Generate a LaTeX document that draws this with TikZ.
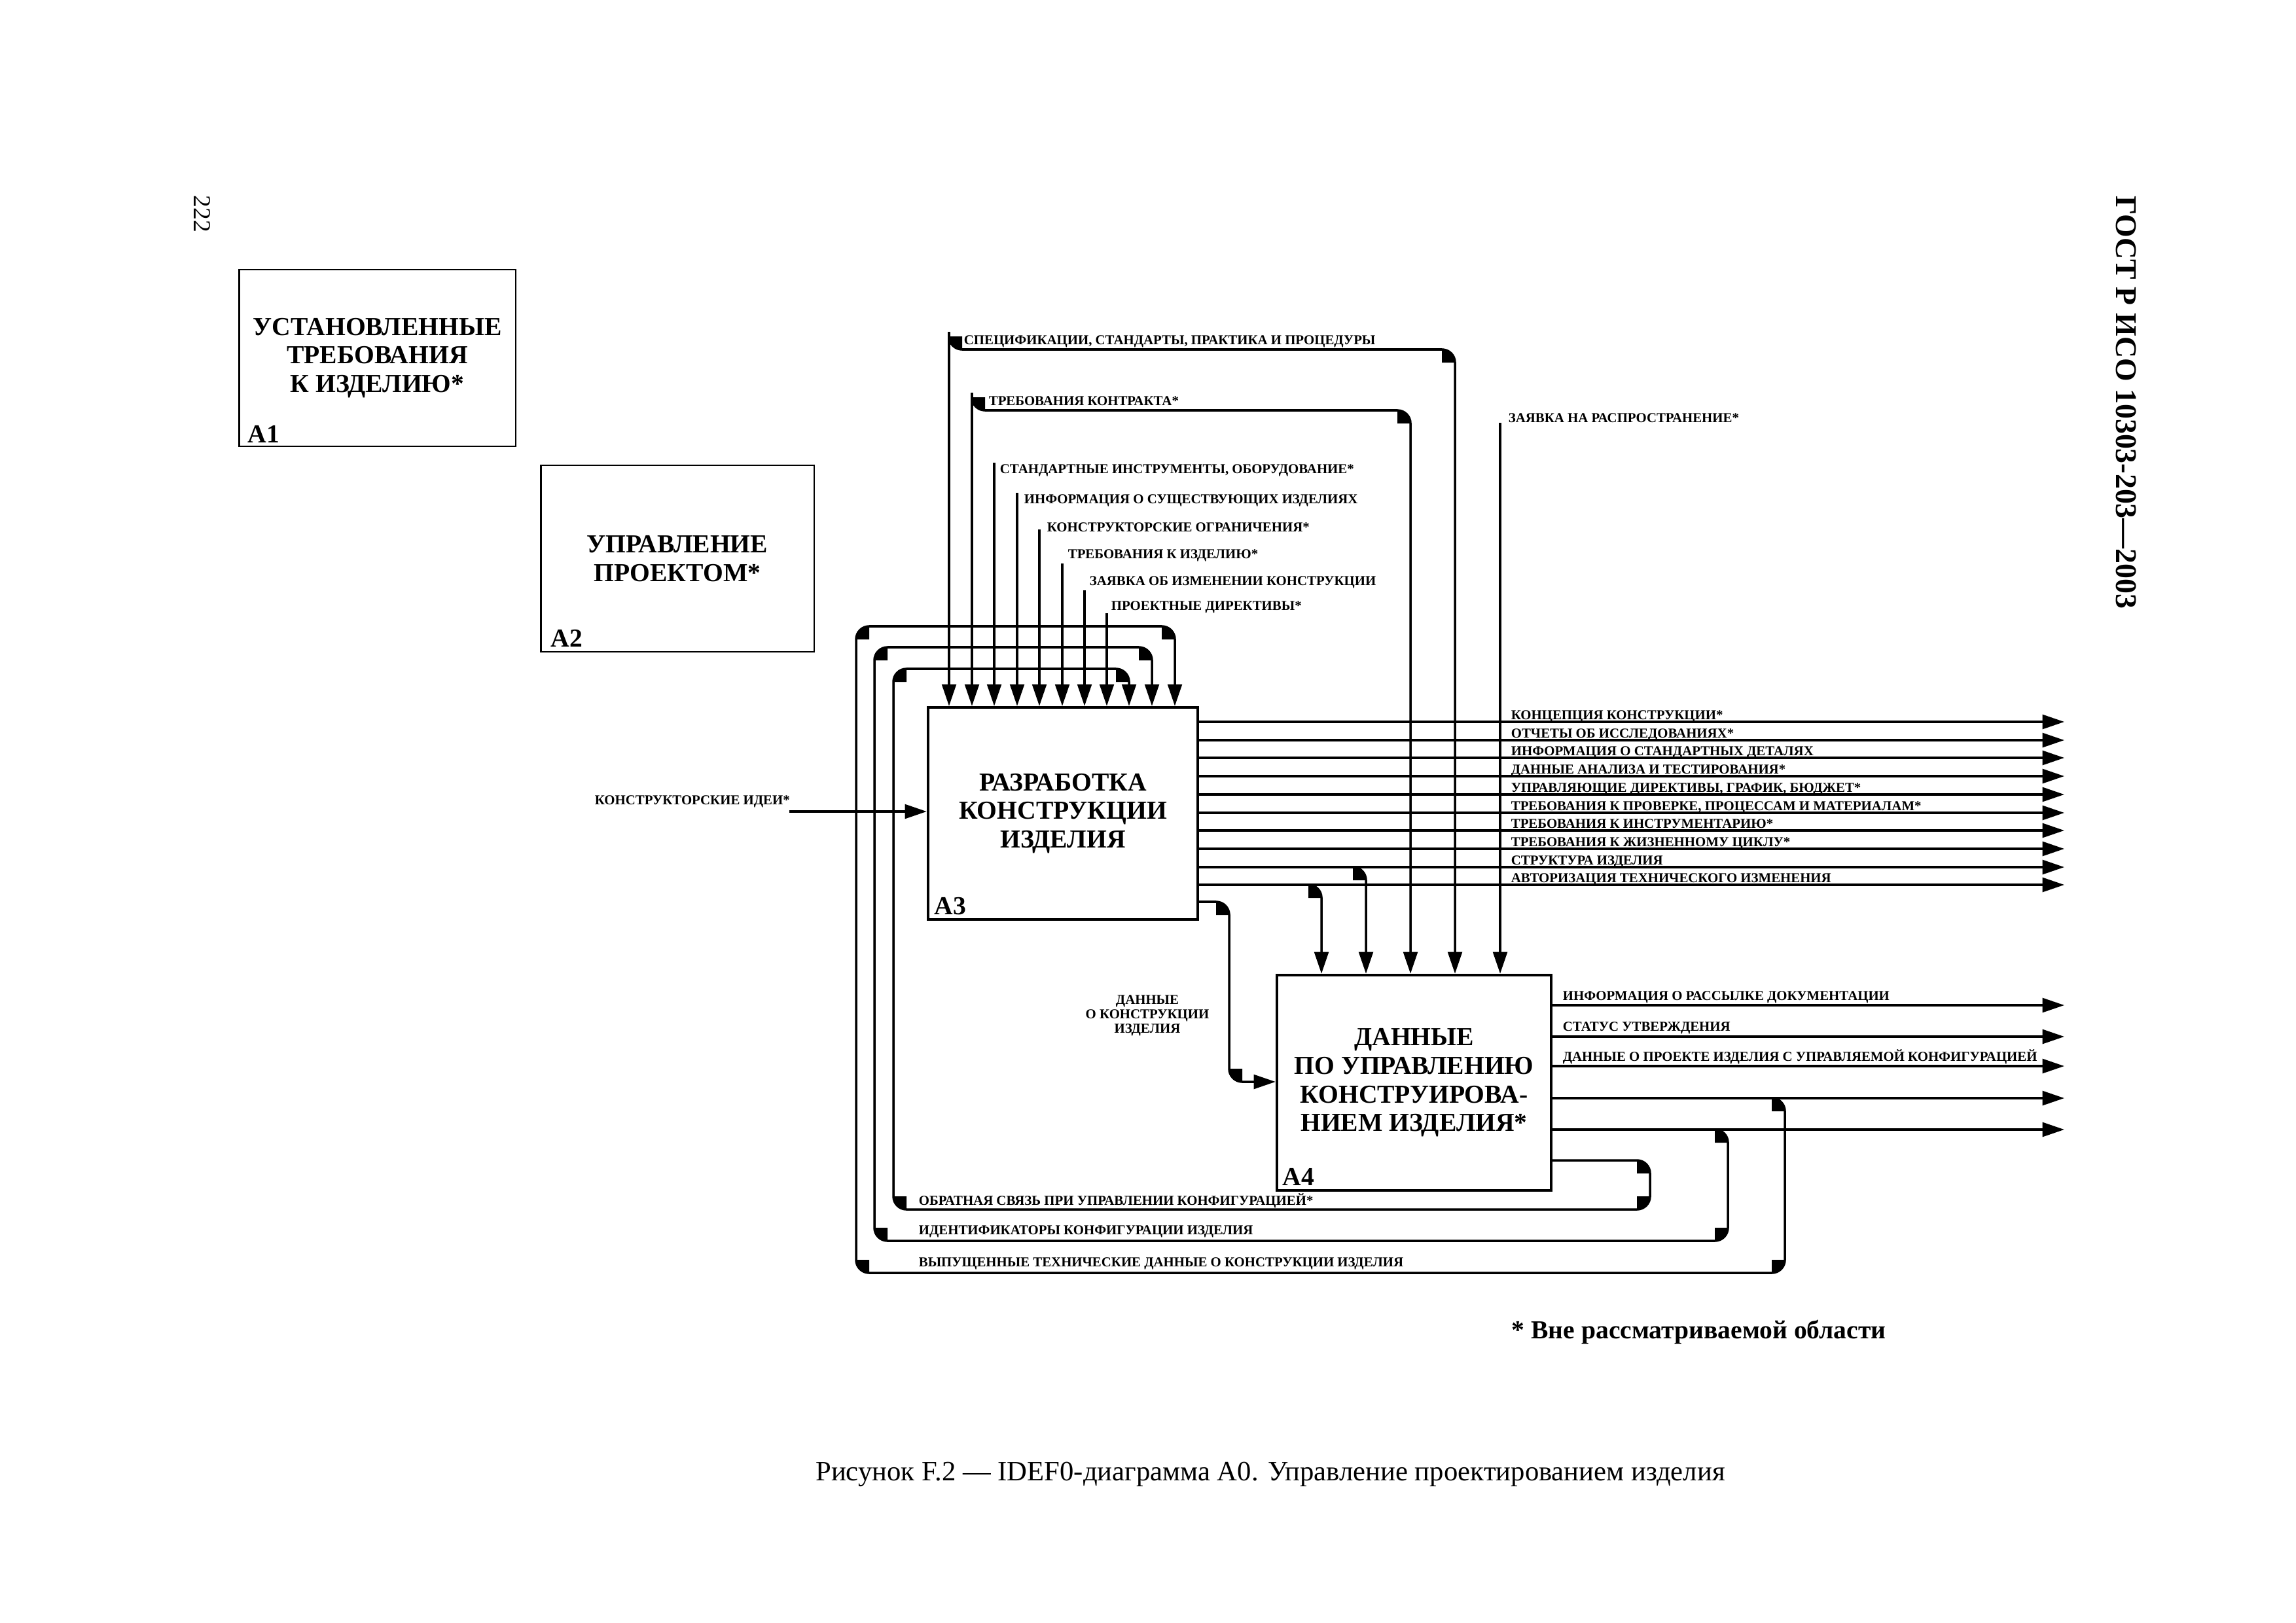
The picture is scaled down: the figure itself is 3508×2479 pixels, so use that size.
\documentclass[tikz,border=0pt]{standalone}
\usepackage{fontspec}
\setmainfont{Liberation Serif}
\usetikzlibrary{arrows.meta,calc}
\newcommand{\rr}{20}
\newcommand{\blobTR}[2]{\fill ({#1-\rr},{#2+\rr}) -- ++(-90:\rr) arc[start angle=-90,delta angle=90,radius=\rr] -- cycle;}
\newcommand{\blobBL}[2]{\fill ({#1+\rr},{#2-\rr}) -- ++(90:\rr) arc[start angle=90,delta angle=90,radius=\rr] -- cycle;}
\newcommand{\blobTL}[2]{\fill ({#1+\rr},{#2+\rr}) -- ++(180:\rr) arc[start angle=180,delta angle=90,radius=\rr] -- cycle;}
\newcommand{\blobBR}[2]{\fill ({#1-\rr},{#2-\rr}) -- ++(0:\rr) arc[start angle=0,delta angle=90,radius=\rr] -- cycle;}
\begin{document}
\begin{tikzpicture}[x=0.24pt,y=-0.24pt,
  box/.style={draw,line width=1pt,inner sep=0pt,align=center,font=\fontsize{9.5}{10.5}\selectfont\bfseries},
  sbox/.style={box,line width=0.7pt},
  idn/.style={inner sep=0pt,anchor=south west,font=\fontsize{9.5}{10.5}\selectfont\bfseries},
  lab/.style={inner sep=0pt,anchor=base west,font=\fontsize{5}{6}\selectfont\bfseries},
  ln/.style={line width=0.85pt,rounded corners=4.8pt},
  conn/.style={ln,-{Triangle[length=8pt,width=5.2pt]}},
]
\fill[white] (0,0) rectangle (3508,2479);
\useasboundingbox (0,0) rectangle (3508,2479);

% page header texts
\node[rotate=-90,font=\fontsize{9}{10}\selectfont] (pg) at (309,327) {222};
\node[rotate=-90,font=\fontsize{11}{13}\selectfont\bfseries] (gost) at (3248,615) {ГОСТ Р ИСО 10303-203—2003};

% boxes
\node[sbox,minimum width=101.5pt,minimum height=64.8pt] (A1) at (576.5,547) {УСТАНОВЛЕННЫЕ\\ТРЕБОВАНИЯ\\К ИЗДЕЛИЮ*};
\node[sbox,minimum width=100.3pt,minimum height=68.4pt] (A2) at (1035,853.5) {УПРАВЛЕНИЕ\\ПРОЕКТОМ*};
\node[box,minimum width=98.9pt,minimum height=77.8pt] (A3) at (1624,1243) {РАЗРАБОТКА\\КОНСТРУКЦИИ\\ИЗДЕЛИЯ};
\node[box,minimum width=100.6pt,minimum height=79pt] (A4) at (2160.5,1654.5) {ДАННЫЕ\\ПО УПРАВЛЕНИЮ\\КОНСТРУИРОВА-\\НИЕМ ИЗДЕЛИЯ*};
\node[idn] (A1n) at ($(A1.south west)+(14,-6)$) {A1};
\node[idn] (A2n) at ($(A2.south west)+(16,-8)$) {A2};
\node[idn] (A3n) at ($(A3.south west)+(11,-8)$) {A3};
\node[idn] (A4n) at ($(A4.south west)+(10,-9)$) {A4};

% controls of A3
\coordinate (c1) at (1450,507);
\coordinate (c2) at (1485,600);
\coordinate (c3) at (1519,707);
\coordinate (c4) at (1554,753);
\coordinate (c5) at (1588,809);
\coordinate (c6) at (1623,861);
\coordinate (c7) at (1657,902);
\coordinate (c8) at (1691,937);
\coordinate (k1) at (2223,534);
\coordinate (k2) at (2155,627);
\node[lab] (l1) at (1472,526) {СПЕЦИФИКАЦИИ, СТАНДАРТЫ, ПРАКТИКА И ПРОЦЕДУРЫ};
\node[lab] (l2) at (1510,619) {ТРЕБОВАНИЯ КОНТРАКТА*};
\node[lab] (l3) at (1527,723) {СТАНДАРТНЫЕ ИНСТРУМЕНТЫ, ОБОРУДОВАНИЕ*};
\node[lab] (l4) at (1564,769) {ИНФОРМАЦИЯ О СУЩЕСТВУЮЩИХ ИЗДЕЛИЯХ};
\node[lab] (l5) at (1599,812) {КОНСТРУКТОРСКИЕ ОГРАНИЧЕНИЯ*};
\node[lab] (l6) at (1631,853) {ТРЕБОВАНИЯ К ИЗДЕЛИЮ*};
\node[lab] (l7) at (1664,894) {ЗАЯВКА ОБ ИЗМЕНЕНИИ КОНСТРУКЦИИ};
\node[lab] (l8) at (1697,932) {ПРОЕКТНЫЕ ДИРЕКТИВЫ*};
\foreach \c in {c1,c2,c3,c4,c5,c6,c7,c8}
  \draw[conn] (\c) -- (\c |- A3.north);
\draw[conn] (c1) |- (k1) -- (k1 |- A4.north);
\draw[conn] (c2) |- (k2) -- (k2 |- A4.north);
\blobBL{1450}{534} \blobTR{2223}{534}
\blobBL{1485}{627} \blobTR{2155}{627}

% control of A4
\coordinate (d1) at (2292,646);
\node[lab] (ld1) at (2304,645) {ЗАЯВКА НА РАСПРОСТРАНЕНИЕ*};
\draw[conn] (d1) -- (d1 |- A4.north);

% input of A3
\coordinate (i1) at (1206,1240);
\node[lab] (li1) at (908,1229) {КОНСТРУКТОРСКИЕ ИДЕИ*};
\draw[conn] (i1) -- (A3.west |- i1);

% outputs of A3
\coordinate (o1) at (3154,1103);
\coordinate (o2) at (3154,1131);
\coordinate (o3) at (3154,1158);
\coordinate (o4) at (3154,1186);
\coordinate (o5) at (3154,1214);
\coordinate (o6) at (3154,1242);
\coordinate (o7) at (3154,1269);
\coordinate (o8) at (3154,1297);
\coordinate (o9) at (3154,1325);
\coordinate (o10) at (3154,1352);
\foreach \o in {o1,o2,o3,o4,o5,o6,o7,o8,o9,o10}
  \draw[conn] (A3.east |- \o) -- (\o);
\node[lab] (ol1) at (2308,1099) {КОНЦЕПЦИЯ КОНСТРУКЦИИ*};
\node[lab] (ol2) at (2308,1127) {ОТЧЕТЫ ОБ ИССЛЕДОВАНИЯХ*};
\node[lab] (ol3) at (2308,1154) {ИНФОРМАЦИЯ О СТАНДАРТНЫХ ДЕТАЛЯХ};
\node[lab] (ol4) at (2308,1182) {ДАННЫЕ АНАЛИЗА И ТЕСТИРОВАНИЯ*};
\node[lab] (ol5) at (2308,1210) {УПРАВЛЯЮЩИЕ ДИРЕКТИВЫ, ГРАФИК, БЮДЖЕТ*};
\node[lab] (ol6) at (2308,1238) {ТРЕБОВАНИЯ К ПРОВЕРКЕ, ПРОЦЕССАМ И МАТЕРИАЛАМ*};
\node[lab] (ol7) at (2308,1265) {ТРЕБОВАНИЯ К ИНСТРУМЕНТАРИЮ*};
\node[lab] (ol8) at (2308,1293) {ТРЕБОВАНИЯ К ЖИЗНЕННОМУ ЦИКЛУ*};
\node[lab] (ol9) at (2308,1321) {СТРУКТУРА ИЗДЕЛИЯ};
\node[lab] (ol10) at (2308,1348) {АВТОРИЗАЦИЯ ТЕХНИЧЕСКОГО ИЗМЕНЕНИЯ};

% branches of A3 outputs into A4 controls
\coordinate (t1) at (2019,1352);
\coordinate (t2) at (2087,1325);
\draw[conn] (A3.east |- t1) -| (A4.north -| t1);
\draw[conn] (A3.east |- t2) -| (A4.north -| t2);
\blobTR{2019}{1352} \blobTR{2087}{1325}

% design data A3 -> A4
\coordinate (dk1) at (1878,1378);
\coordinate (dk2) at (1878,1653);
\draw[conn] (A3.east |- dk1) -- (dk1) -- (dk2) -- (A4.west |- dk2);
\blobTR{1878}{1378} \blobBL{1878}{1653}
\node[inner sep=0pt,anchor=base,font=\fontsize{5}{6}\selectfont\bfseries] (dl1) at (1753,1534) {ДАННЫЕ};
\node[inner sep=0pt,anchor=base,font=\fontsize{5}{6}\selectfont\bfseries] (dl2) at (1753,1556) {О КОНСТРУКЦИИ};
\node[inner sep=0pt,anchor=base,font=\fontsize{5}{6}\selectfont\bfseries] (dl3) at (1753,1578) {ИЗДЕЛИЯ};
\draw[line width=0.6pt] ($(dl1.east)+(9,0)$) -- ($(dl1.east)+(9,0)$ -| dk1);

% outputs of A4
\coordinate (p1) at (3154,1536);
\coordinate (p2) at (3154,1584);
\coordinate (p3) at (3154,1629);
\coordinate (p4) at (3154,1678);
\coordinate (p5) at (3154,1726);
\foreach \p in {p1,p2,p3,p4,p5}
  \draw[conn] (A4.east |- \p) -- (\p);
\node[lab] (pl1) at (2387,1528) {ИНФОРМАЦИЯ О РАССЫЛКЕ ДОКУМЕНТАЦИИ};
\node[lab] (pl2) at (2387,1575) {СТАТУС УТВЕРЖДЕНИЯ};
\node[lab] (pl3) at (2387,1621) {ДАННЫЕ О ПРОЕКТЕ ИЗДЕЛИЯ С УПРАВЛЯЕМОЙ КОНФИГУРАЦИЕЙ};

% feedback loops
\coordinate (f0) at (2521,1773);
\coordinate (q1) at (2521,1848);
\coordinate (q2) at (1365,1022);
\coordinate (q3) at (1725,1022);
\draw[conn] (A4.east |- f0) -| (q1) -| (q2) -| (A3.north -| q3);
\blobTR{2521}{1773} \blobBR{2521}{1848} \blobBL{1365}{1848} \blobTL{1365}{1022} \blobTR{1725}{1022}

\coordinate (r1) at (2640,1896);
\coordinate (r2) at (1336,989);
\coordinate (r3) at (1760,989);
\draw[conn] (A4.east |- p5) -| (r1) -| (r2) -| (A3.north -| r3);
\blobTR{2640}{1726} \blobBR{2640}{1896} \blobBL{1336}{1896} \blobTL{1336}{989} \blobTR{1760}{989}

\coordinate (s1) at (2727,1945);
\coordinate (s2) at (1308,957);
\coordinate (s3) at (1795,957);
\draw[conn] (A4.east |- p4) -| (s1) -| (s2) -| (A3.north -| s3);
\blobTR{2727}{1678} \blobBR{2727}{1945} \blobBL{1308}{1945} \blobTL{1308}{957} \blobTR{1795}{957}

\node[lab] (fl1) at (1403,1841) {ОБРАТНАЯ СВЯЗЬ ПРИ УПРАВЛЕНИИ КОНФИГУРАЦИЕЙ*};
\node[lab] (fl2) at (1403,1886) {ИДЕНТИФИКАТОРЫ КОНФИГУРАЦИИ ИЗДЕЛИЯ};
\node[lab] (fl3) at (1403,1935) {ВЫПУЩЕННЫЕ ТЕХНИЧЕСКИЕ ДАННЫЕ О КОНСТРУКЦИИ ИЗДЕЛИЯ};

% footnote and caption
\node[inner sep=0pt,anchor=base west,font=\fontsize{9.5}{11}\selectfont\bfseries] (fn) at (2309,2045) {* Вне рассматриваемой области};
\node[inner sep=0pt,anchor=base,font=\fontsize{10.25}{12}\selectfont] (cap) at (1941,2262) {Рисунок F.2 — IDEF0-диаграмма A0. Управление проектированием изделия};
\end{tikzpicture}
\end{document}
